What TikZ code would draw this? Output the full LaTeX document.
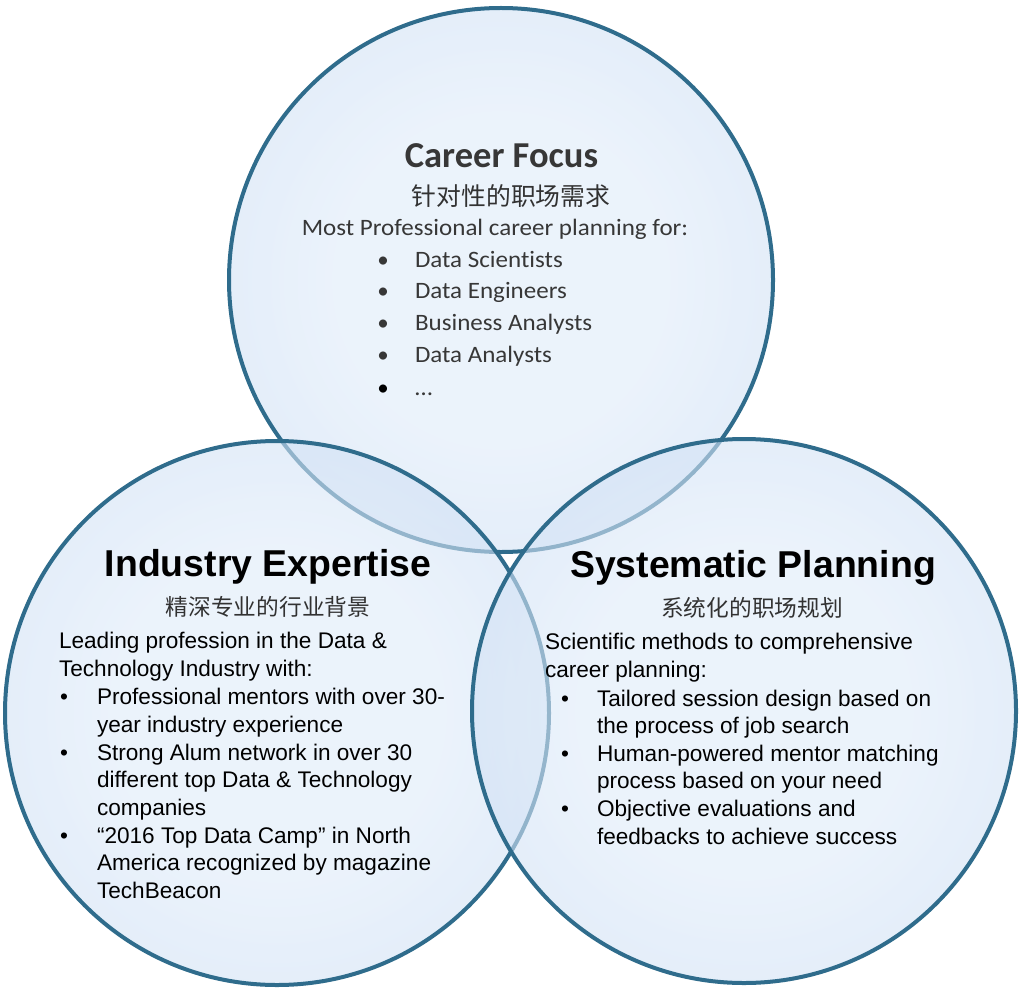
\documentclass[tikz,border=0pt]{standalone}
\usepackage{fontspec}
\newfontfamily\carlf[Ligatures=CommonOff]{Carlito}
\newfontfamily\carlw[Ligatures=CommonOff,FakeStretch=1.065]{Carlito}
\newfontfamily\arlf{Liberation Sans}
\newfontfamily\cjkf{Noto Sans CJK SC}
\definecolor{vstroke}{RGB}{47,108,140}
\definecolor{vinner}{RGB}{222,235,249}
\definecolor{vouter}{RGB}{210,226,245}
\definecolor{cftext}{RGB}{55,55,55}
\definecolor{cjktext}{RGB}{50,50,50}
\pgfdeclareradialshading{vennshade}{\pgfpoint{0bp}{0bp}}{color(0bp)=(vinner); color(15bp)=(vinner); color(25bp)=(vouter); color(50bp)=(vouter)}
\tikzset{
  venn/.style={shading=vennshade, fill opacity=0.6},
  rim/.style={draw=vstroke, line width=4pt},
  txt/.style={inner sep=0pt, outer sep=0pt},
  cfhead/.style={txt, anchor=base, text=cftext, font=\carlf\bfseries\fontsize{36.5}{40}\selectfont},
  cfbody/.style={txt, anchor=base west, text=cftext, font=\carlw\fontsize{23.5}{28}\selectfont},
  cfbul/.style={txt, anchor=base, text=cftext, font=\carlf\fontsize{23}{28}\selectfont},
  cjk/.style={txt, anchor=center, text=cjktext},
  arhead/.style={txt, anchor=base, text=black, font=\arlf\bfseries\fontsize{37.4}{42}\selectfont},
  arbody/.style={txt, anchor=base west, text=black, font=\arlf\fontsize{22.6}{27}\selectfont},
  arbul/.style={txt, anchor=base, text=black, font=\arlf\fontsize{22.6}{27}\selectfont},
}
\begin{document}
\begin{tikzpicture}[x=1pt,y=-1pt]
\useasboundingbox (0,0) rectangle (1024,992);
\coordinate (ctop) at (501,280);
\coordinate (cleft) at (277,713);
\coordinate (cright) at (744,711);
% circles: top, left, right (later ones lie over earlier ones)
\shade[venn] (ctop) circle[radius=272];
\draw[rim] (ctop) circle[radius=272];
\shade[venn] (cleft) circle[radius=272];
\draw[rim] (cleft) circle[radius=272];
\shade[venn] (cright) circle[radius=272];
\draw[rim] (cright) circle[radius=272];

% ---- Career Focus ----
\node[cfhead] (cfh) at (501.5,168) {Career Focus};
\node[cjk, font=\cjkf\fontsize{24.8}{28}\selectfont] (cfc) at (511,196) {针对性的职场需求};
\node[cfbody, anchor=base] (cfm) at (495,236) {Most Professional career planning for:};
\node[cfbul] (cfb1) at (383,267) {•};
\node[cfbody] (cfi1) at (415,267) {Data Scientists};
\node[cfbul] (cfb2) at (383,298) {•};
\node[cfbody] (cfi2) at (415,298) {Data Engineers};
\node[cfbul] (cfb3) at (383,330) {•};
\node[cfbody] (cfi3) at (415,330) {Business Analysts};
\node[cfbul] (cfb4) at (383,362) {•};
\node[cfbody] (cfi4) at (415,362) {Data Analysts};
\node[cfbul, text=black] (cfb5) at (383,395) {•};
\node[cfbody] (cfi5) at (415,395) {…};

% ---- Industry Expertise ----
\node[arhead] (ieh) at (268,576) {Industry Expertise};
\node[cjk, font=\cjkf\fontsize{22.7}{26}\selectfont] (iec) at (268,607) {精深专业的行业背景};
\node[arbody] (iel1) at (59,648.6) {Leading profession in the Data \&};
\node[arbody] (iel2) at (59,676) {Technology Industry with:};
\node[arbul] (ieb1) at (64,704) {•};
\node[arbody] (iei1a) at (97,704) {Professional mentors with over 30-};
\node[arbody] (iei1b) at (97,732) {year industry experience};
\node[arbul] (ieb2) at (64,760) {•};
\node[arbody] (iei2a) at (97,760) {Strong Alum network in over 30};
\node[arbody] (iei2b) at (97,787) {different top Data \& Technology};
\node[arbody] (iei2c) at (97,815) {companies};
\node[arbul] (ieb3) at (64,843) {•};
\node[arbody] (iei3a) at (97,843) {“2016 Top Data Camp” in North};
\node[arbody] (iei3b) at (97,870) {America recognized by magazine};
\node[arbody] (iei3c) at (97,898) {TechBeacon};

% ---- Systematic Planning ----
\node[arhead] (sph) at (753,577) {Systematic Planning};
\node[cjk, font=\cjkf\fontsize{22.7}{26}\selectfont] (spc) at (752,608) {系统化的职场规划};
\node[arbody] (spl1) at (545,649.6) {Scientific methods to comprehensive};
\node[arbody] (spl2) at (545,677) {career planning:};
\node[arbul] (spb1) at (565,706) {•};
\node[arbody] (spi1a) at (597,706) {Tailored session design based on};
\node[arbody] (spi1b) at (597,733) {the process of job search};
\node[arbul] (spb2) at (565,761) {•};
\node[arbody] (spi2a) at (597,761) {Human-powered mentor matching};
\node[arbody] (spi2b) at (597,788) {process based on your need};
\node[arbul] (spb3) at (565,816) {•};
\node[arbody] (spi3a) at (597,816) {Objective evaluations and};
\node[arbody] (spi3b) at (597,844) {feedbacks to achieve success};
\end{tikzpicture}
\end{document}
